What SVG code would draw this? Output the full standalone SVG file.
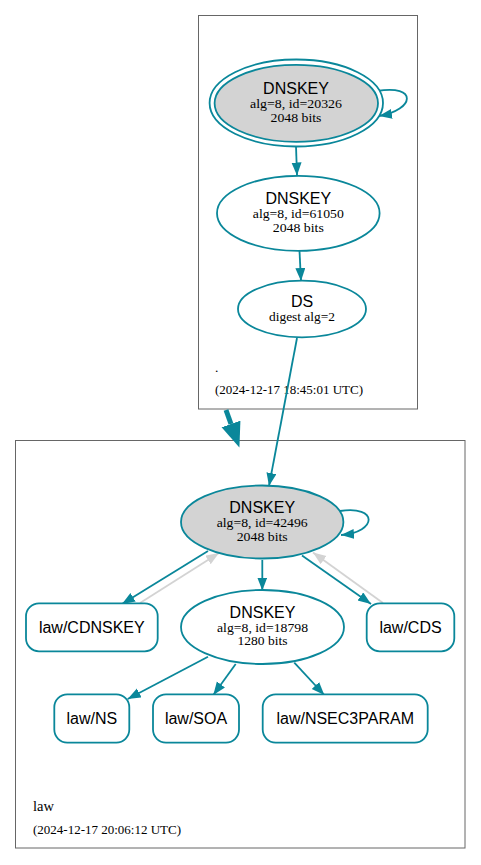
<svg xmlns="http://www.w3.org/2000/svg" width="481" height="865" viewBox="0 0 481 865">
<style>
.cl{fill:none;stroke:#666;stroke-width:1}
.nd{stroke:#0a879a;stroke-width:1.8}
.g{fill:#d3d3d3}
.w{fill:#fff}
.h{font-family:"Liberation Sans",Arial,sans-serif;font-size:16px;fill:#000;text-anchor:middle}
.s{font-family:"Liberation Serif","Times New Roman",serif;font-size:12px;fill:#000;text-anchor:middle}
.lb{font-family:"Liberation Serif","Times New Roman",serif;font-size:13.5px;fill:#000}
.e{fill:none;stroke:#0a879a;stroke-width:1.8}
.eg{fill:none;stroke:#d3d3d3;stroke-width:1.8}
</style>
<defs>
<marker id="a" markerUnits="userSpaceOnUse" markerWidth="14" markerHeight="11" refX="13" refY="5" orient="auto"><path d="M0,0 L13,5 L0,10 Z" fill="#0a879a"/></marker>
<marker id="ag" markerUnits="userSpaceOnUse" markerWidth="14" markerHeight="11" refX="13" refY="5" orient="auto"><path d="M0,0 L13,5 L0,10 Z" fill="#d3d3d3"/></marker>
<marker id="at" markerUnits="userSpaceOnUse" markerWidth="26" markerHeight="21" refX="0" refY="10" orient="auto"><path d="M0,0 L25,10 L0,20 Z" fill="#0a879a"/></marker>
</defs>
<rect width="481" height="865" fill="#fff"/>
<g id="clusters">
<rect class="cl" x="198.5" y="15.5" width="219" height="393.5"/>
<text class="lb" x="215" y="372">.</text>
<text class="lb" x="215" y="394" style="font-size:13px">(2024-12-17 18:45:01 UTC)</text>
<rect class="cl" x="15.5" y="440.5" width="449.5" height="407.5"/>
<text class="lb" x="33" y="811" style="font-size:14.5px">law</text>
<text class="lb" x="33" y="834" style="font-size:13px">(2024-12-17 20:06:12 UTC)</text>
</g>
<g id="edges">
<path class="e" d="M377,91 C418,84 415,110 379,116" marker-end="url(#a)"/>
<path class="e" d="M296,146 L297,175.5" marker-end="url(#a)"/>
<path class="e" d="M299.5,251 L301,281" marker-end="url(#a)"/>
<path class="e" d="M297,338 L269,486" marker-end="url(#a)"/>
<path d="M226,410 L231,424" fill="none" stroke="#0a879a" stroke-width="5" marker-end="url(#at)"/>
<path class="e" d="M340,511 C378,505 378,532 341,535" marker-end="url(#a)"/>
<path class="e" d="M208,551 L122,604" marker-end="url(#a)"/>
<path class="eg" d="M140,603 L219,553" marker-end="url(#ag)"/>
<path class="e" d="M262.3,560 L262.3,590.5" marker-end="url(#a)"/>
<path class="e" d="M302,555.5 L371,604" marker-end="url(#a)"/>
<path class="eg" d="M383,603 L313,552.5" marker-end="url(#ag)"/>
<path class="e" d="M208,656.7 L127.7,699" marker-end="url(#a)"/>
<path class="e" d="M235.7,664 L213.3,695" marker-end="url(#a)"/>
<path class="e" d="M294.3,662.7 L324.3,695" marker-end="url(#a)"/>
</g>
<g id="dnskey-20326">
<ellipse class="nd w" cx="296.3" cy="103" rx="86.7" ry="43.5"/>
<ellipse class="nd g" cx="296.3" cy="103.3" rx="81.7" ry="38.5"/>
<text class="h" x="296" y="93.5">DNSKEY</text>
<text class="s" x="296" y="108" textLength="92" lengthAdjust="spacingAndGlyphs">alg=8, id=20326</text>
<text class="s" x="296" y="121.5" textLength="51" lengthAdjust="spacingAndGlyphs">2048 bits</text>
</g>
<g id="dnskey-61050">
<ellipse class="nd w" cx="298.3" cy="213.3" rx="81.3" ry="37.5"/>
<text class="h" x="298.3" y="203.5">DNSKEY</text>
<text class="s" x="298.3" y="218" textLength="91" lengthAdjust="spacingAndGlyphs">alg=8, id=61050</text>
<text class="s" x="298.3" y="231.5" textLength="51" lengthAdjust="spacingAndGlyphs">2048 bits</text>
</g>
<g id="ds">
<ellipse class="nd w" cx="302" cy="309" rx="64" ry="28.3"/>
<text class="h" x="302" y="306.5">DS</text>
<text class="s" x="302" y="321" textLength="66" lengthAdjust="spacingAndGlyphs">digest alg=2</text>
</g>
<g id="dnskey-42496">
<ellipse class="nd g" cx="262.2" cy="522" rx="81.2" ry="36.5"/>
<text class="h" x="262.2" y="512.5">DNSKEY</text>
<text class="s" x="262.2" y="527" textLength="91" lengthAdjust="spacingAndGlyphs">alg=8, id=42496</text>
<text class="s" x="262.2" y="540.5" textLength="51" lengthAdjust="spacingAndGlyphs">2048 bits</text>
</g>
<g id="dnskey-18798">
<ellipse class="nd w" cx="262.5" cy="627" rx="81.5" ry="37"/>
<text class="h" x="262.5" y="617.5">DNSKEY</text>
<text class="s" x="262.5" y="631.5" textLength="91" lengthAdjust="spacingAndGlyphs">alg=8, id=18798</text>
<text class="s" x="262.5" y="645" textLength="50" lengthAdjust="spacingAndGlyphs">1280 bits</text>
</g>
<g id="law-cdnskey">
<rect class="nd w" x="26" y="603.3" width="131.7" height="48" rx="13"/>
<text class="h" x="91.8" y="632.5">law/CDNSKEY</text>
</g>
<g id="law-cds">
<rect class="nd w" x="366.7" y="603.3" width="87.6" height="48" rx="13"/>
<text class="h" x="410.5" y="632.5">law/CDS</text>
</g>
<g id="law-ns">
<rect class="nd w" x="54.3" y="694.3" width="75" height="48.3" rx="13"/>
<text class="h" x="91.8" y="723.5">law/NS</text>
</g>
<g id="law-soa">
<rect class="nd w" x="153" y="694.3" width="86" height="48.3" rx="13"/>
<text class="h" x="196" y="723.5">law/SOA</text>
</g>
<g id="law-nsec3param">
<rect class="nd w" x="262.7" y="694.3" width="165" height="48.3" rx="13"/>
<text class="h" x="345.2" y="723.5">law/NSEC3PARAM</text>
</g>
</svg>
